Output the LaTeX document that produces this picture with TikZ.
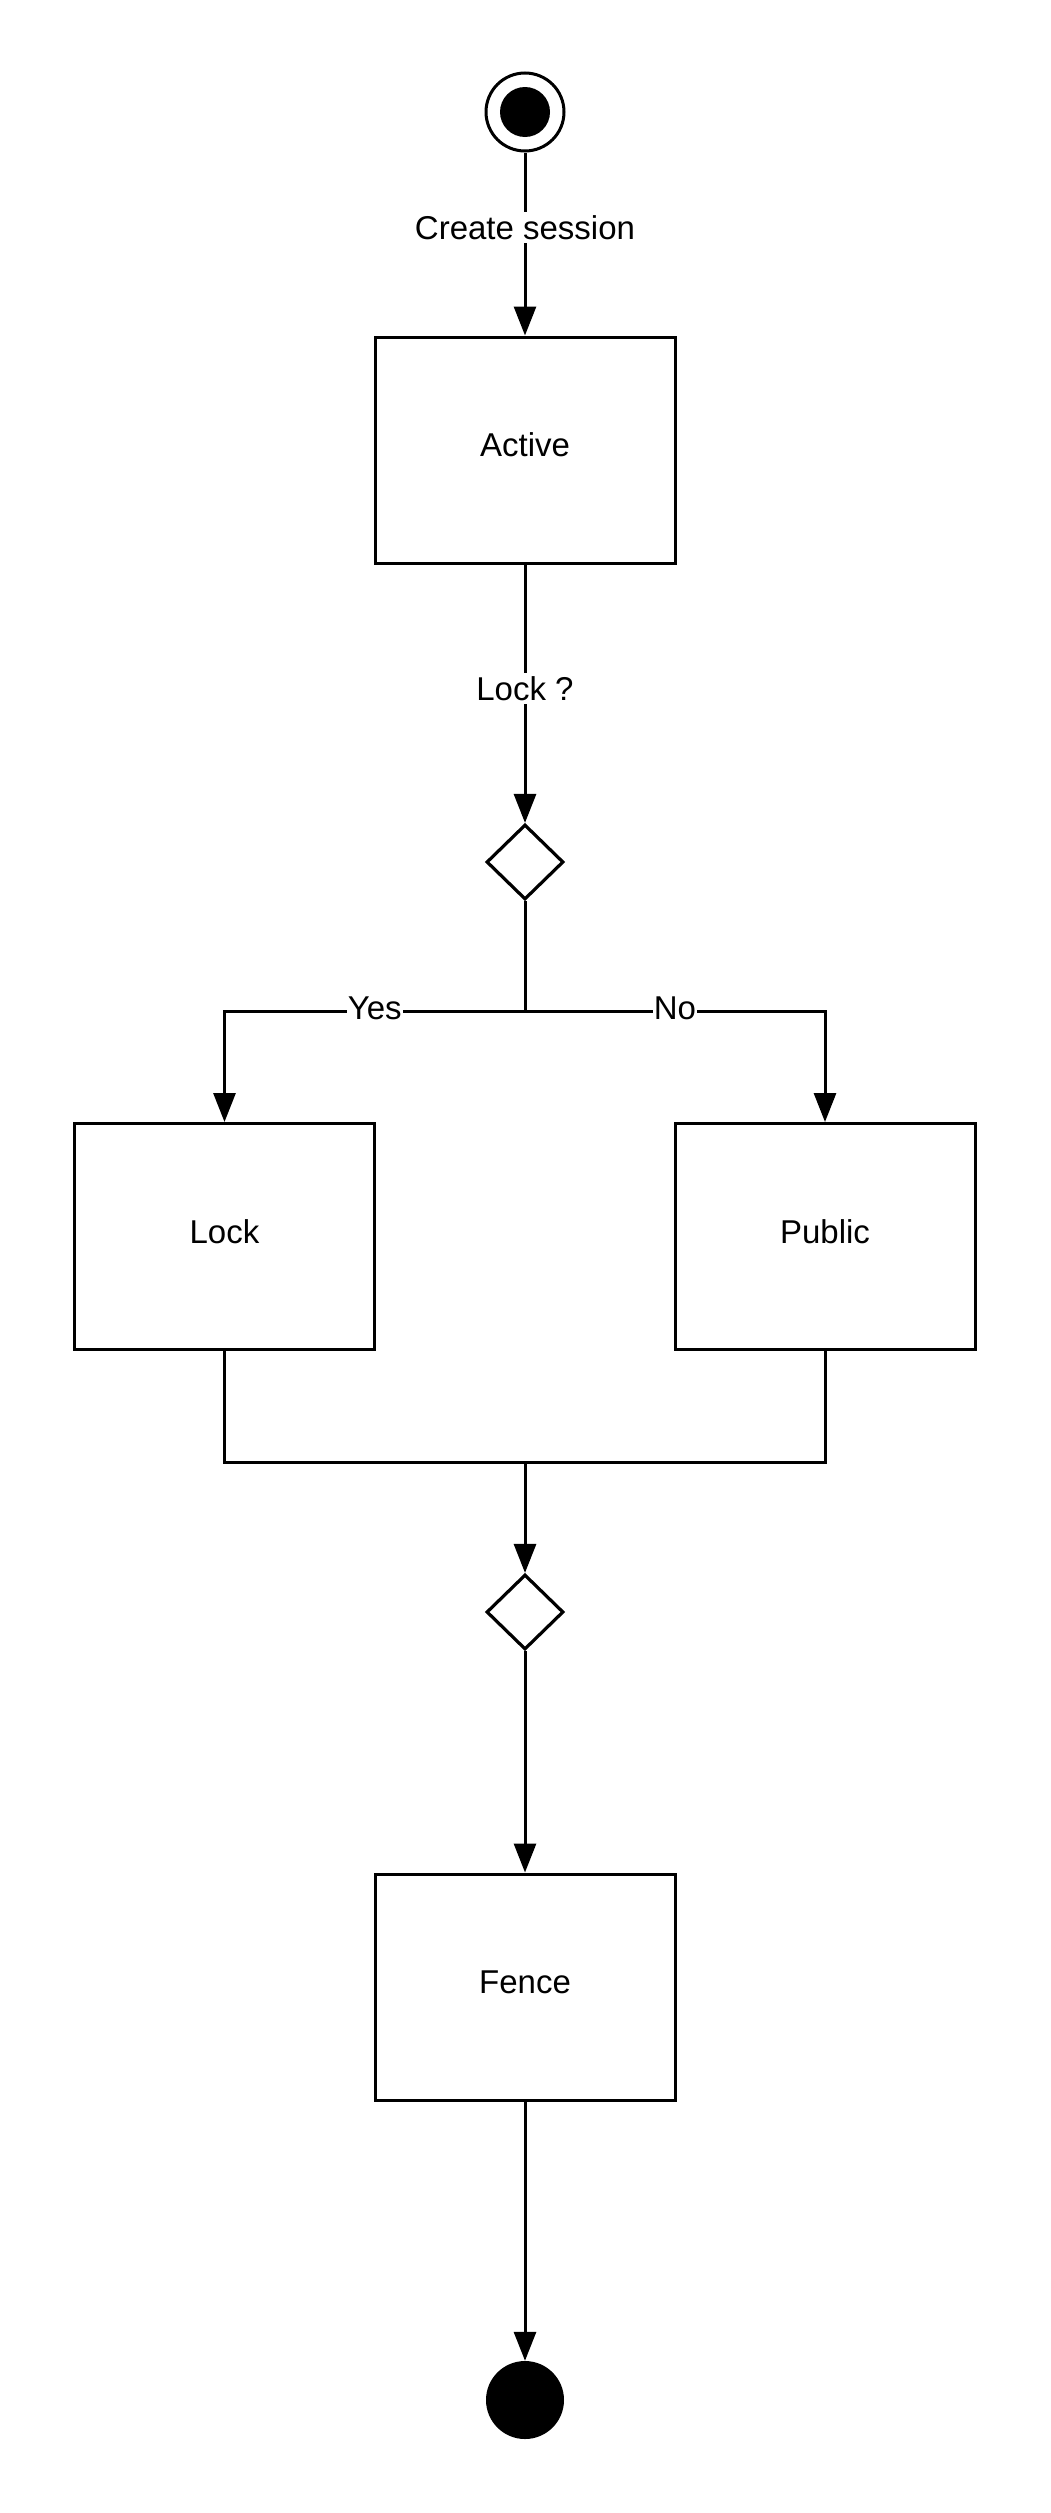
\documentclass[tikz,border=0pt]{standalone}
\usepackage{fontspec}
\setmainfont{Liberation Sans}
\usetikzlibrary{arrows.meta,shapes.geometric}
\begin{document}
\begin{tikzpicture}[x=1pt,y=-1pt,
  every node/.style={font=\fontsize{33}{40}\selectfont},
  statebox/.style={draw, line width=3pt, rectangle, minimum width=300pt, minimum height=226pt, inner sep=0pt, text depth=10pt},
  decision/.style={draw, line width=3.2pt, diamond, aspect=1, minimum width=77pt, minimum height=75pt, inner sep=0pt},
  conn/.style={line width=3pt},
  arr/.style={conn, -{Triangle[length=29pt,width=22pt]}},
  lbl/.style={fill=white, inner sep=3pt}]
\useasboundingbox (0,0) rectangle (1050,2513);
\node[circle, draw, line width=3pt, fill=white, minimum size=78pt, inner sep=0pt] (start) at (525,112) {};
\fill (start.center) circle (25pt);
\node[statebox] (active) at (525,450) {Active};
\node[decision] (d1) at (525,862) {};
\node[statebox] (lock) at (224.5,1236.5) {Lock};
\node[statebox] (public) at (825,1236.5) {Public};
\node[decision] (d2) at (525,1612) {};
\node[statebox] (fence) at (525,1987) {Fence};
\node[circle, fill=black, minimum size=78pt, inner sep=0pt] (end) at (525,2400) {};
\coordinate (split) at (525,1011);
\coordinate (merge) at (525,1462);

\draw[arr] (start) -- node[lbl, pos=0.41] {Create session} (active);
\draw[arr] (active) -- node[lbl, pos=0.48] {Lock ?} (d1);
\draw[conn] (d1) -- (split);
\draw[arr] (split) -- node[lbl, inner sep=1pt, yshift=3pt] {Yes} (split -| lock) -- (lock);
\draw[arr] (split) -- node[lbl, inner sep=1pt, yshift=3pt] {No} (split -| public) -- (public);
\draw[conn] (lock) |- (merge);
\draw[conn] (public) |- (merge);
\draw[arr] (merge) -- (d2);
\draw[arr] (d2) -- (fence);
\draw[arr] (fence) -- (end);
\end{tikzpicture}
\end{document}
